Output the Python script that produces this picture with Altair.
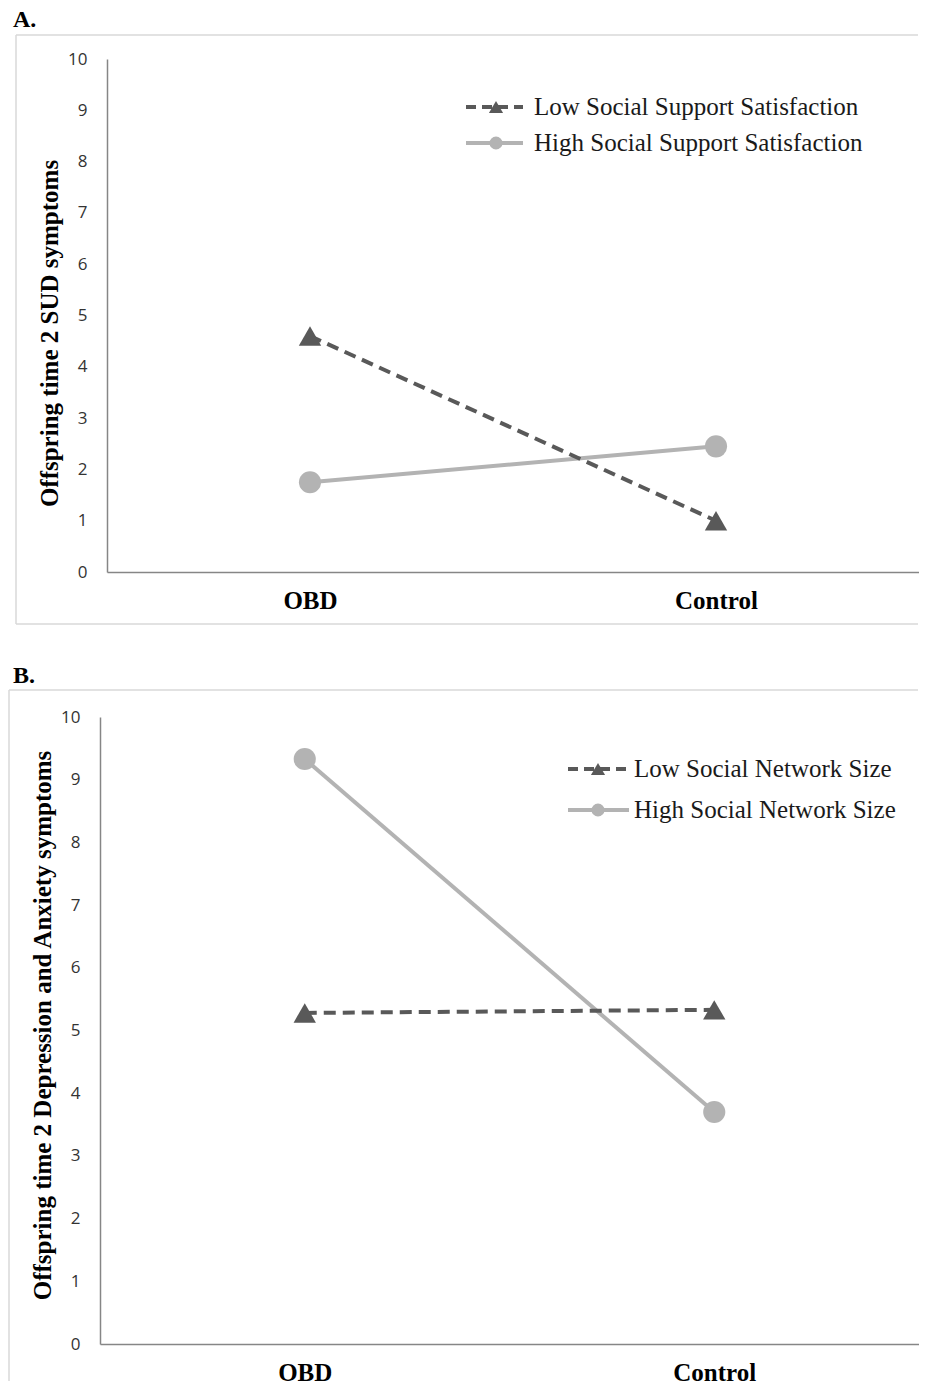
import altair as alt
import pandas as pd

groups = ["OBD", "Control"]
y_ticks = list(range(0, 11))

a_low_name = "Low Social Support Satisfaction"
a_high_name = "High Social Support Satisfaction"
a_low_vals = [4.6, 1.0]
a_high_vals = [1.75, 2.45]
a_ytitle = "Offspring time 2 SUD symptoms"

b_low_name = "Low Social Network Size"
b_high_name = "High Social Network Size"
b_low_vals = [5.28, 5.33]
b_high_vals = [9.33, 3.7]
b_ytitle = "Offspring time 2 Depression and Anxiety symptoms"

DARK = "#595959"
LIGHT = "#b3b3b3"
BORDER = "#d9d9d9"
AXIS = "#868686"
SERIF = "Liberation Serif"
SANS = "Open Sans"


def panel(letter, low_name, high_name, low_vals, high_vals, ytitle,
          width, height, xrange, yoffset, border, leg, letter_y, title_y):
    df_low = pd.DataFrame({"group": groups, "value": low_vals, "series": low_name})
    df_high = pd.DataFrame({"group": groups, "value": high_vals, "series": high_name})

    x_enc = alt.X("group:N", sort=groups, title=None,
                  scale=alt.Scale(type="point", padding=0.5, range=xrange),
                  axis=alt.Axis(labelAngle=0, labelFont=SERIF, labelFontSize=25,
                                labelFontWeight="bold", labelColor="#000000",
                                labelPadding=16, ticks=False, domainColor=AXIS,
                                domainWidth=1.5, grid=False))
    y_enc = alt.Y("value:Q", title=ytitle,
                  scale=alt.Scale(domain=[0, 10], nice=False, zero=True),
                  axis=alt.Axis(values=y_ticks, ticks=False, grid=False,
                                domainColor=AXIS, domainWidth=1.5, offset=yoffset,
                                labelFont=SANS, labelFontSize=17, labelColor="#333333",
                                labelPadding=20, titleFont=SERIF, titleFontSize=25,
                                titleFontWeight="bold", titleColor="#000000",
                                titlePadding=5, titleY=title_y))

    high_line = alt.Chart(df_high).mark_line(color=LIGHT, strokeWidth=4).encode(x=x_enc, y=y_enc)
    low_line = alt.Chart(df_low).mark_line(color=DARK, strokeWidth=4, strokeDash=[12, 7]).encode(x=x_enc, y=y_enc)
    high_pts = alt.Chart(df_high).mark_point(shape="circle", filled=True, color=LIGHT,
                                              opacity=1, size=490).encode(x=x_enc, y=y_enc)
    low_pts = alt.Chart(df_low).mark_point(shape="triangle-up", filled=True, color=DARK,
                                            opacity=1, size=500).encode(x=x_enc, y=y_enc)

    bl, bt, br, bb = border
    one = pd.DataFrame({"k": [0]})
    deco = [
        alt.Chart(one).mark_rule(color=BORDER, strokeWidth=1.5).encode(
            x=alt.value(bl), x2=alt.value(br), y=alt.value(bt)),
        alt.Chart(one).mark_rule(color=BORDER, strokeWidth=1.5).encode(
            x=alt.value(bl), y=alt.value(bt), y2=alt.value(bb)),
    ]
    if letter == "A.":
        deco.append(alt.Chart(one).mark_rule(color=BORDER, strokeWidth=1.5).encode(
            x=alt.value(bl), x2=alt.value(br), y=alt.value(bb)))
    deco.append(alt.Chart(pd.DataFrame({"t": [letter]})).mark_text(
        align="left", baseline="top", font=SERIF, fontSize=24, fontWeight="bold",
        color="#000000").encode(x=alt.value(-87), y=alt.value(letter_y), text="t:N"))

    lx1, lx2, lmx, ltx, ly1, ly2 = leg
    legend_layers = []
    for name, ly, col, dash, shape, sz in [
        (low_name, ly1, DARK, [10, 6], "triangle-up", 200),
        (high_name, ly2, LIGHT, [1, 0], "circle", 170),
    ]:
        ldf = pd.DataFrame({"label": [name]})
        legend_layers.append(alt.Chart(ldf).mark_rule(color=col, strokeWidth=4, strokeDash=dash).encode(
            x=alt.value(lx1), x2=alt.value(lx2), y=alt.value(ly)))
        legend_layers.append(alt.Chart(ldf).mark_point(shape=shape, filled=True, color=col,
                                                       opacity=1, size=sz).encode(
            x=alt.value(lmx), y=alt.value(ly)))
        legend_layers.append(alt.Chart(ldf).mark_text(align="left", baseline="middle", font=SERIF,
                                                      fontSize=25, color="#1a1a1a").encode(
            x=alt.value(ltx), y=alt.value(ly), text="label:N"))

    return alt.layer(*deco, high_line, low_line, high_pts, low_pts, *legend_layers).properties(
        width=width, height=height)


chart_a = panel("A.", a_low_name, a_high_name, a_low_vals, a_high_vals, a_ytitle,
                819, 513, [7, 819], -7, (-84, -24, 818, 565),
                (366, 423, 396, 434, 48, 84), -51, 274)
chart_b = panel("B.", b_low_name, b_high_name, b_low_vals, b_high_vals, b_ytitle,
                819, 627, [0, 819], 0, (-91, -27, 818, 664),
                (468, 529, 498, 534, 52, 93), -53, 308)

chart = alt.vconcat(chart_a, chart_b, spacing=39).properties(padding=0).configure(
    background="white").configure_view(strokeWidth=0, stroke="transparent")

chart.save("out.html", embed_options={"renderer": "svg", "actions": False})
